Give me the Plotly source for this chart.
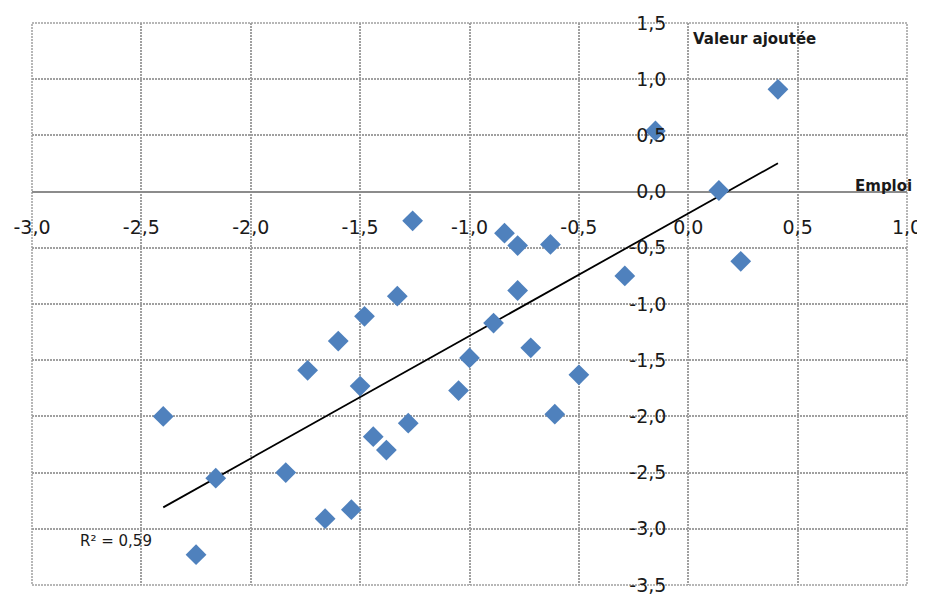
import numpy as np
import plotly.graph_objects as go

# Data: Emploi (x) vs Valeur ajoutée (y)
emploi = [-1.26, -0.84, -0.78, -0.63, -0.15, 0.41, 0.14, 0.24, -0.29, -0.78,
          -1.33, -1.48, -1.60, -1.74, -1.50, -0.89, -0.72, -1.00, -1.05, -0.50,
          -0.61, -1.28, -1.44, -1.38, -1.54, -1.66, -2.40, -2.16, -2.25, -1.84]
valeur_ajoutee = [-0.26, -0.37, -0.48, -0.47, 0.54, 0.91, 0.01, -0.62, -0.75, -0.88,
                  -0.93, -1.11, -1.33, -1.59, -1.73, -1.17, -1.39, -1.48, -1.77, -1.63,
                  -1.98, -2.06, -2.18, -2.30, -2.83, -2.91, -2.00, -2.55, -3.23, -2.50]

x_tickvals = [-3.0, -2.5, -2.0, -1.5, -1.0, -0.5, 0.0, 0.5, 1.0]
x_ticktext = ["-3,0", "-2,5", "-2,0", "-1,5", "-1,0", "-0,5", "0,0", "0,5", "1,0"]
y_tickvals = [1.5, 1.0, 0.5, 0.0, -0.5, -1.0, -1.5, -2.0, -2.5, -3.0, -3.5]
y_ticktext = ["1,5", "1,0", "0,5", "0,0", "-0,5", "-1,0", "-1,5", "-2,0", "-2,5", "-3,0", "-3,5"]

x_label = "Emploi"
y_label = "Valeur ajoutée"
r2_label = "R² = 0,59"

# Linear trend computed from the data
xa = np.array(emploi)
ya = np.array(valeur_ajoutee)
slope, intercept = np.polyfit(xa, ya, 1)
trend_x = [xa.min(), xa.max()]
trend_y = [slope * v + intercept for v in trend_x]

FONT = "DejaVu Sans"
GRID = "#a0a0a0"
TXT = "#1a1a1a"

fig = go.Figure()
fig.add_trace(go.Scatter(
    x=trend_x, y=trend_y, mode="lines",
    line=dict(color="black", width=1.8), hoverinfo="skip", showlegend=False))
fig.add_trace(go.Scatter(
    x=emploi, y=valeur_ajoutee, mode="markers",
    marker=dict(symbol="diamond", size=16, color="#4F81BD", line=dict(width=0)),
    showlegend=False))

fig.update_layout(
    width=925, height=594,
    margin=dict(l=24, r=26, t=15, b=17, autoexpand=False),
    paper_bgcolor="white", plot_bgcolor="white",
    font=dict(family=FONT, color=TXT),
    xaxis=dict(
        range=[-3, 1], anchor="free", position=0.7,
        tickvals=x_tickvals, ticktext=x_ticktext,
        tickfont=dict(size=19, family=FONT, color=TXT),
        ticks="outside", ticklen=19, tickcolor="rgba(0,0,0,0)",
        showgrid=True, gridcolor=GRID, gridwidth=1.5, griddash="2px,1px",
        zeroline=False, showline=False, automargin=False, fixedrange=True,
    ),
    yaxis=dict(
        range=[-3.5, 1.5], anchor="free", position=0.75,
        tickvals=y_tickvals, ticktext=y_ticktext,
        tickfont=dict(size=19, family=FONT, color=TXT),
        ticks="outside", ticklen=18, tickcolor="rgba(0,0,0,0)",
        showgrid=True, gridcolor=GRID, gridwidth=1.5, griddash="2px,1px",
        zeroline=True, zerolinecolor="#8c8c8c", zerolinewidth=2,
        showline=False, automargin=False, fixedrange=True,
    ),
    shapes=[dict(type="rect", xref="x domain", yref="y domain",
                 x0=0, x1=1, y0=0, y1=1, layer="below",
                 line=dict(color=GRID, width=1.5, dash="2px,1px"))],
    annotations=[
        dict(text="<b>" + y_label + "</b>", x=0.011, y=1.36, xref="x", yref="y",
             xanchor="left", yanchor="middle", showarrow=False,
             font=dict(size=15, family=FONT, color=TXT)),
        dict(text="<b>" + x_label + "</b>", x=1.008, y=0.71, xref="paper", yref="paper",
             xanchor="right", yanchor="middle", showarrow=False,
             font=dict(size=15, family=FONT, color=TXT)),
        dict(text=r2_label, x=-2.792, y=-3.105, xref="x", yref="y",
             xanchor="left", yanchor="middle", showarrow=False,
             font=dict(size=15, family=FONT, color=TXT)),
    ],
)

fig.write_html("out.html")
